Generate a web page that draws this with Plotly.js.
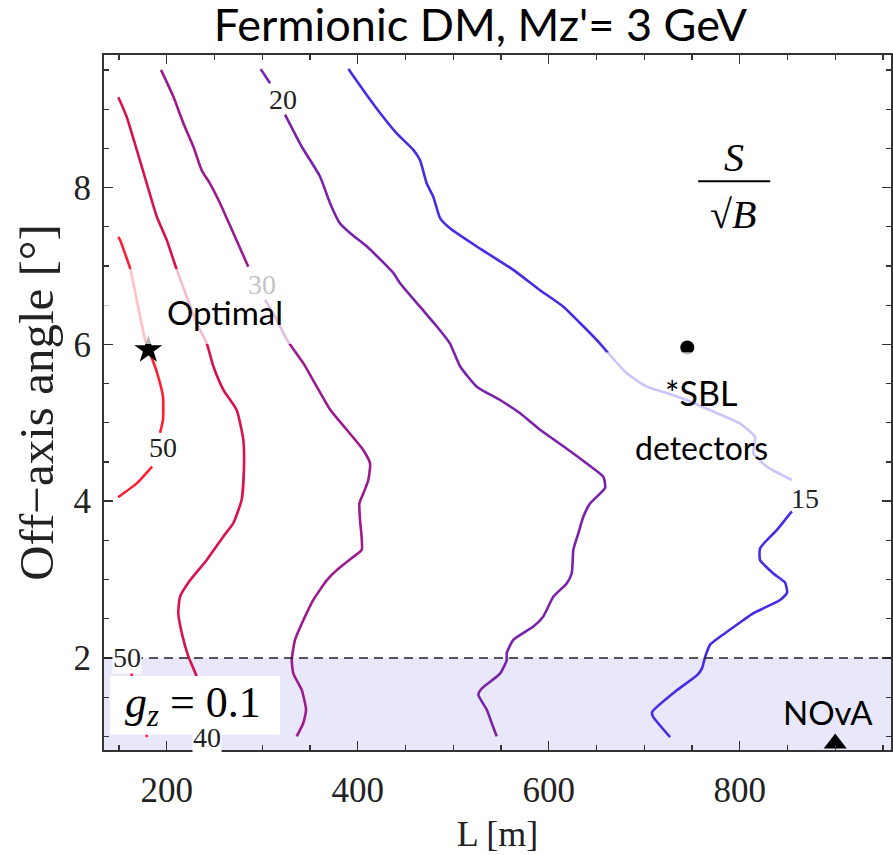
<!DOCTYPE html>
<html>
<head>
<meta charset="utf-8">
<script src="https://cdn.plot.ly/plotly-3.0.1.min.js"></script>
<style>html,body{margin:0;padding:0;background:#fff;}#chart{width:893px;height:855px;}</style>
</head>
<body>
<div id="chart"></div>
<script>
// ---- data: contour lines of S/sqrt(B) (L [m], angle [deg]) ----
const levels = [50, 40, 30, 20, 15];

const c50a_x = [149.3,151.1,161.6,170.0,177.3,182.5,189.8,196.1,196.1,193.0,null,184.6,168.9,149.0];
const c50a_y = [7.37,7.33,6.97,6.48,6.06,5.89,5.64,5.33,5.04,4.87,null,4.44,4.23,4.05];
const c50b_x = [155.3,161.6,170.0,179.4];
const c50b_y = [2.10,1.86,1.46,0.99];

const c40_x = [149.3,158.1,168.6,179.1,189.5,200,210.5,220.9,231.4,241.9,248.8,259.3,273.3,280.2,280.9,278.5,269.7,259.3,241.9,224.4,213.9,212.1,215.7,222.6,231.4,234.9,238.0];
const c40_y = [9.15,8.90,8.48,8.05,7.63,7.33,6.95,6.61,6.27,6.01,5.72,5.42,5.16,4.78,4.44,4.02,3.72,3.55,3.25,2.99,2.78,2.57,2.32,2.02,1.76,1.51,1.12];

const c30_x = [194.0,206.9,217.4,227.9,236.6,245.3,255.8,269.7,285.4,null,302.9,315.2,325.7,343.0,357.1,371.0,388.5,405.9,412.9,411.1,405.9,401.7,402.4,404.2,395.4,378.0,367.5,353.5,343.0,334.3,330.9,332.6,341.4,345.9,343.0,336.1];
const c30_y = [9.50,9.16,8.82,8.52,8.22,8.05,7.80,7.42,6.99,null,6.57,6.31,6.06,5.76,5.46,5.17,4.91,4.65,4.48,4.27,4.10,3.97,3.76,3.38,3.29,3.12,2.99,2.74,2.48,2.23,1.97,1.80,1.59,1.34,1.17,1.00];

const c20_x = [298.4,308.2,null,323.9,341.4,360.5,371.0,381.5,391.9,409.4,437.3,444.3,465.2,482.7,496.6,507.1,524.6,549.0,570.0,590.9,615.3,639.8,657.2,659.0,643.2,636.2,631.0,625.8,624.1,618.8,604.8,594.3,583.9,562.9,556.0,556.0,549.0,529.8,526.3,535.1,540.3,545.5];
const c20_y = [9.51,9.33,null,8.93,8.52,8.14,7.80,7.54,7.42,7.25,6.91,6.78,6.48,6.23,6.01,5.72,5.46,5.29,5.12,4.91,4.70,4.48,4.31,4.17,3.97,3.80,3.59,3.38,3.08,2.95,2.78,2.53,2.40,2.23,2.06,1.97,1.80,1.61,1.53,1.34,1.17,1.00];

const c15_x = [390.2,409.4,423.4,440.8,458.2,465.2,472.3,479.2,486.2,496.6,528.1,562.9,590.9,615.3,636.2,653.7,660.7,681.7,702.6,723.6,744.5,768.9,800.3,816.0,814.2,828.3,854.5,null,854.5,838.7,821.3,821.3,834.9,847.5,849.6,842.3,814.0,803.5,779.4,769.0,763.7,760.6,755.4,734.4,708.2,709.3,727.1];
const c15_y = [9.51,9.18,8.95,8.69,8.48,8.35,8.05,7.88,7.61,7.48,7.22,6.95,6.69,6.48,6.23,6.01,5.91,5.63,5.46,5.38,5.29,5.16,4.99,4.82,4.61,4.44,4.27,null,3.87,3.63,3.40,3.25,3.08,2.96,2.83,2.74,2.57,2.48,2.27,2.17,2.01,1.87,1.78,1.59,1.31,1.25,0.99];

// contour label positions
const lbl_text = ["50", "50", "40", "30", "20", "15"];
const lbl_x = [196.1, 158.5, 241.9, 299.5, 322.1, 868.4];
const lbl_y = [4.68, 2.01, 0.98, 6.76, 9.12, 4.04];

// special points
const optimal_x = [180.7], optimal_y = [5.93];
const sbl_x = [745.1], sbl_y = [5.96];
const nova_x = [900], nova_y = [0.91];

const angleCut = 2;

// ---- styles ----
const colors = {50:'#ff1e32', 40:'#d8124e', 30:'#9c1a8e', 20:'#7a22ac', 15:'#4a2ae6'};
function line(x, y, lev){
  return {x:x, y:y, type:'scatter', mode:'lines', connectgaps:false, hoverinfo:'skip',
          line:{color:colors[lev], width:2.6, shape:'spline', smoothing:0.5}, showlegend:false};
}
const traces = [
  line(c50a_x, c50a_y, 50), line(c50b_x, c50b_y, 50),
  line(c40_x, c40_y, 40), line(c30_x, c30_y, 30),
  line(c20_x, c20_y, 20), line(c15_x, c15_y, 15),
  {x:optimal_x, y:optimal_y, type:'scatter', mode:'markers', showlegend:false,
   marker:{symbol:'star', size:21, color:'#000'}},
  {x:sbl_x, y:sbl_y, type:'scatter', mode:'markers', showlegend:false,
   marker:{symbol:'circle', size:14, color:'#000'}},
  {x:nova_x, y:nova_y, type:'scatter', mode:'markers', showlegend:false, cliponaxis:false,
   marker:{symbol:'triangle-up', size:20, color:'#000'}}
];

const serif = 'Liberation Serif, Times New Roman, serif';
const sans = 'Lato, Open Sans, sans-serif';

const annotations = lbl_text.map((t,i)=>({
  x:lbl_x[i], y:lbl_y[i], xref:'x', yref:'y', text:t, showarrow:false,
  font:{family:serif, size:28, color:(i===3)?'#c4c4c4':'#222'},
  bgcolor:(i===1||i===2)?'#ffffff':'rgba(0,0,0,0)', borderpad:0
}));
annotations.push(
  {x:261.1, y:6.41, xref:'x', yref:'y', text:'Optimal', showarrow:false, font:{family:sans, size:33, color:'#000'}},
  {x:759.6, y:5.39, xref:'x', yref:'y', text:'*SBL', showarrow:false, font:{family:sans, size:34, color:'#000'}},
  {x:759.6, y:4.68, xref:'x', yref:'y', text:'detectors', showarrow:false, font:{family:sans, size:32, color:'#000'}},
  {x:892.3, y:1.31, xref:'x', yref:'y', text:'NOvA', showarrow:false, font:{family:sans, size:33, color:'#000'}},
  {x:794.1, y:8.38, xref:'x', yref:'y', text:'<i>S</i>', showarrow:false, font:{family:serif, size:40, color:'#000'}},
  {x:793.0, y:7.66, xref:'x', yref:'y', text:'√<i>B</i>', showarrow:false, font:{family:serif, size:40, color:'#000'}},
  {x:227.6, y:1.39, xref:'x', yref:'y', text:'<i>g</i><sub><i>z</i></sub> = 0.1', showarrow:false, font:{family:serif, size:44, color:'#000'}}
);

const shapes = [
  {type:'rect', xref:'paper', yref:'y', x0:0, x1:1, y0:0, y1:angleCut, fillcolor:'#e8e8fa', line:{width:0}, layer:'below'},
  {type:'line', xref:'paper', yref:'y', x0:0, x1:1, y0:angleCut, y1:angleCut, line:{color:'#222', width:1.6, dash:'9px,6px'}, layer:'above'},
  // semi-transparent text boxes
  {type:'rect', xref:'x', yref:'y', x0:134.3, x1:339.6, y0:6.005, y1:6.96, fillcolor:'rgba(255,255,255,0.72)', line:{width:0}, layer:'above'},
  {type:'rect', xref:'x', yref:'y', x0:660.5, x1:860, y0:4.245, y1:5.90, fillcolor:'rgba(255,255,255,0.72)', line:{width:0}, layer:'above'},
  // g_z box
  {type:'rect', xref:'x', yref:'y', x0:140.6, x1:318.7, y0:1.02, y1:1.77, fillcolor:'#ffffff', line:{width:0}, layer:'above'},
  // fraction bar
  {type:'line', xref:'x', yref:'y', x0:756.5, x1:831.9, y0:8.08, y1:8.08, line:{color:'#000', width:2}, layer:'above'}
];

const axisCommon = {showgrid:false, zeroline:false, showline:true, linecolor:'#333', linewidth:2,
  mirror:'ticks', ticks:'inside', ticklen:9, tickwidth:1.5, tickcolor:'#333',
  tickfont:{family:serif, size:35, color:'#222'}};

const layout = {
  width:893, height:855,
  margin:{l:104, r:2, t:55, b:105},
  paper_bgcolor:'#fff', plot_bgcolor:'#fff',
  title:{text:"Fermionic DM, Mz'= 3 GeV", font:{family:sans, size:45, color:'#000'}, x:0.538, xanchor:'center', y:0.971, yanchor:'middle'},
  xaxis:Object.assign({}, axisCommon, {range:[134.3, 958.4], tick0:0, dtick:200, ticklabelstandoff:8,
    minor:{ticks:'inside', dtick:50, ticklen:5, tickcolor:'#333', tickwidth:1.2},
    title:{text:'L [m]', font:{family:serif, size:36, color:'#222'}, standoff:12}}),
  yaxis:Object.assign({}, axisCommon, {range:[0.826, 9.69], tick0:0, dtick:2, ticklabelstandoff:4,
    minor:{ticks:'inside', dtick:0.5, ticklen:5, tickcolor:'#333', tickwidth:1.2},
    title:{text:'Off−axis angle [°]', font:{family:serif, size:49, color:'#222'}, standoff:4}}),
  shapes:shapes, annotations:annotations, showlegend:false
};

Plotly.newPlot('chart', traces, layout, {staticPlot:true, displayModeBar:false});
</script>
</body>
</html>
